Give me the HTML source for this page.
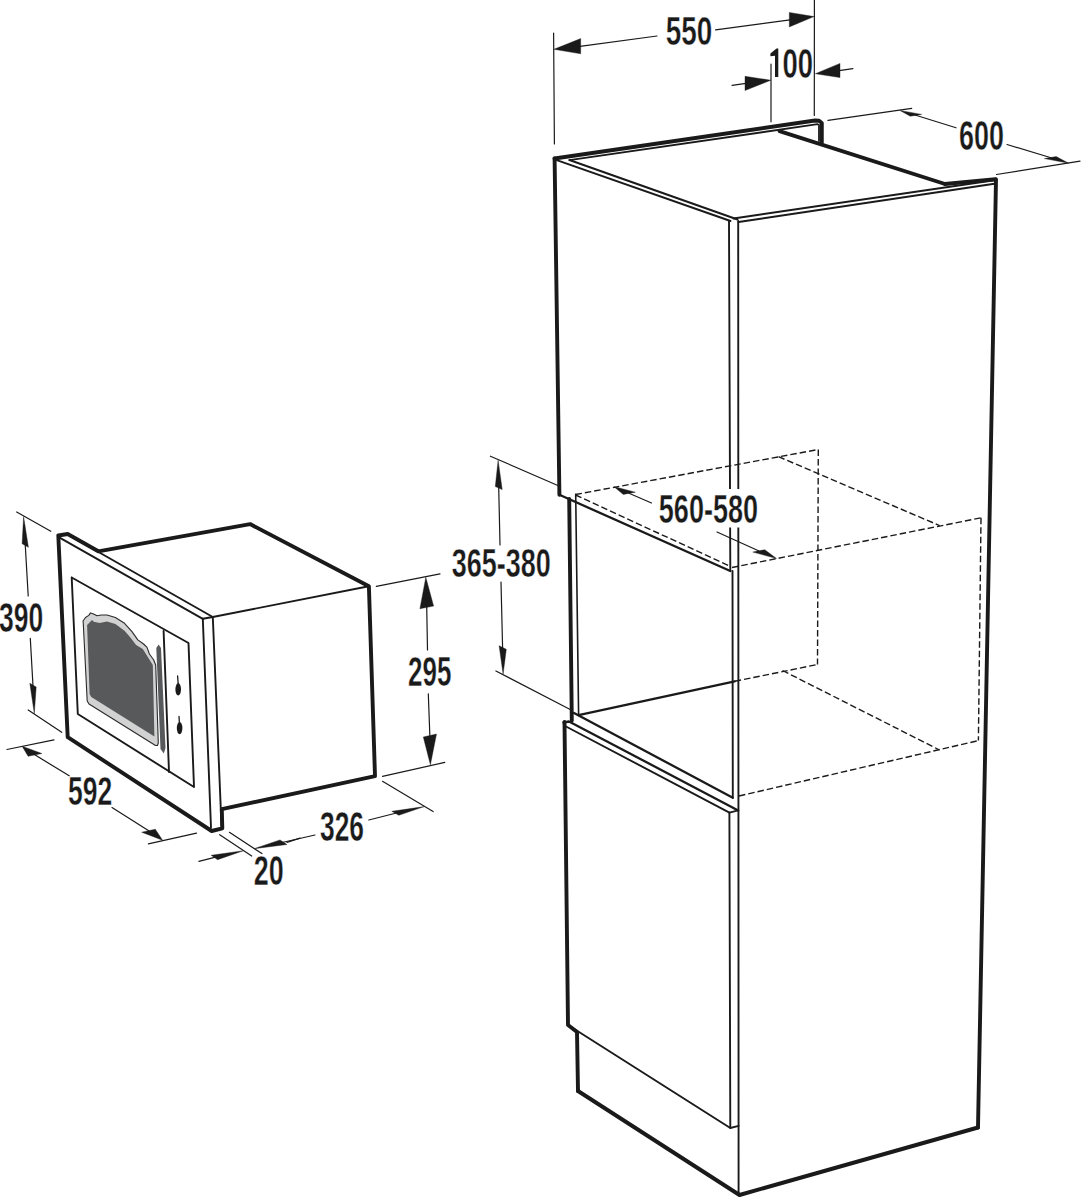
<!DOCTYPE html>
<html><head><meta charset="utf-8"><style>
html,body{margin:0;padding:0;background:#fff;}
svg{display:block;}
text{font-family:"Liberation Sans",sans-serif;font-weight:bold;fill:#1a1a1a;stroke:#fff;stroke-width:0.4;}
</style></head><body>
<svg width="1084" height="1200" viewBox="0 0 1084 1200">
<g fill="none" stroke="#1a1a1a">
<path d="M554.5,158.5 L815.0,120.5 L819.0,120.8 L821.8,123.0 L821.8,142.5" stroke-width="3.9" stroke-linecap="round" stroke-linejoin="round"/>
<path d="M569.4,160.2 L817.6,124.2 L819.0,125.0 L819.0,141.0" stroke-width="1.8" stroke-linecap="round" stroke-linejoin="round"/>
<path d="M556.0,159.8 L730.5,221.0" stroke-width="1.9" stroke-linecap="round" stroke-linejoin="round"/>
<path d="M569.4,160.0 L737.5,219.5" stroke-width="1.9" stroke-linecap="round" stroke-linejoin="round"/>
<path d="M779.5,131.2 L945.0,184.0" stroke-width="3.9" stroke-linecap="round" stroke-linejoin="round"/>
<path d="M945.0,184.0 L995.5,179.3" stroke-width="3.9" stroke-linecap="round" stroke-linejoin="round"/>
<path d="M733.5,218.5 L996.0,180.0" stroke-width="1.9" stroke-linecap="round" stroke-linejoin="round"/>
<path d="M738.5,222.0 L996.0,183.5" stroke-width="1.9" stroke-linecap="round" stroke-linejoin="round"/>
<path d="M996.0,179.5 L978.0,1127.5" stroke-width="3.9" stroke-linecap="round" stroke-linejoin="round"/>
<path d="M554.6,158.5 L559.4,494.8" stroke-width="3.9" stroke-linecap="round" stroke-linejoin="round"/>
<path d="M729.0,221.0 L730.3,571.0" stroke-width="1.9" stroke-linecap="round" stroke-linejoin="round"/>
<path d="M738.2,221.0 L738.6,1195.0" stroke-width="1.9" stroke-linecap="round" stroke-linejoin="round"/>
<path d="M559.4,494.8 L730.3,571.0" stroke-width="2.3" stroke-linecap="round" stroke-linejoin="round"/>
<path d="M569.2,499.0 L571.8,720.6" stroke-width="3.9" stroke-linecap="round" stroke-linejoin="round"/>
<path d="M575.7,494.4 L578.6,715.1" stroke-width="1.6" stroke-linecap="round" stroke-linejoin="round"/>
<path d="M578.6,715.1 L734.7,681.3" stroke-width="2.3" stroke-linecap="round" stroke-linejoin="round"/>
<path d="M574.0,713.0 L732.8,797.7" stroke-width="2.3" stroke-linecap="round" stroke-linejoin="round"/>
<path d="M732.5,571.0 L732.8,797.7" stroke-width="1.9" stroke-linecap="round" stroke-linejoin="round"/>
<path d="M563.5,722.5 L569.0,721.5 L738.2,810.4" stroke-width="2.3" stroke-linecap="round" stroke-linejoin="round"/>
<path d="M566.0,726.5 L729.4,812.6" stroke-width="1.9" stroke-linecap="round" stroke-linejoin="round"/>
<path d="M729.4,812.6 L738.2,810.4" stroke-width="1.9" stroke-linecap="round" stroke-linejoin="round"/>
<path d="M564.5,722.0 L568.0,1025.0 L577.0,1032.0 L578.0,1091.0" stroke-width="3.9" stroke-linecap="round" stroke-linejoin="round"/>
<path d="M578.0,1091.0 L739.5,1195.0 L978.0,1127.5" stroke-width="3.9" stroke-linecap="round" stroke-linejoin="round"/>
<path d="M729.4,812.6 L730.3,1128.0" stroke-width="1.9" stroke-linecap="round" stroke-linejoin="round"/>
<path d="M568.0,1025.0 L730.3,1128.0 L738.6,1125.8" stroke-width="1.9" stroke-linecap="round" stroke-linejoin="round"/>
<path d="M575.5,494.5 L818.3,449.5" stroke-width="1.4" stroke-linecap="butt" stroke-linejoin="round" stroke-dasharray="6.5,3"/>
<path d="M818.3,449.5 L817.5,664.5" stroke-width="1.4" stroke-linecap="butt" stroke-linejoin="round" stroke-dasharray="6.5,3"/>
<path d="M778.5,456.7 L939.6,525.6" stroke-width="1.4" stroke-linecap="butt" stroke-linejoin="round" stroke-dasharray="6.5,3"/>
<path d="M732.0,567.5 L981.0,517.8" stroke-width="1.4" stroke-linecap="butt" stroke-linejoin="round" stroke-dasharray="6.5,3"/>
<path d="M981.0,517.8 L978.4,740.6" stroke-width="1.4" stroke-linecap="butt" stroke-linejoin="round" stroke-dasharray="6.5,3"/>
<path d="M575.5,495.0 L730.0,566.2" stroke-width="1.4" stroke-linecap="butt" stroke-linejoin="round" stroke-dasharray="6.5,3"/>
<path d="M734.7,681.3 L817.5,664.5" stroke-width="1.4" stroke-linecap="butt" stroke-linejoin="round" stroke-dasharray="6.5,3"/>
<path d="M782.5,670.5 L939.5,750.0" stroke-width="1.4" stroke-linecap="butt" stroke-linejoin="round" stroke-dasharray="6.5,3"/>
<path d="M739.0,796.0 L978.4,740.6" stroke-width="1.4" stroke-linecap="butt" stroke-linejoin="round" stroke-dasharray="6.5,3"/>
<path d="M553.6,33.0 L554.4,144.0" stroke-width="1.2" stroke-linecap="round" stroke-linejoin="round"/>
<path d="M814.4,0.0 L814.3,115.5" stroke-width="1.2" stroke-linecap="round" stroke-linejoin="round"/>
<path d="M771.0,64.0 L771.0,121.8" stroke-width="1.2" stroke-linecap="round" stroke-linejoin="round"/>
<polygon points="553.9,49.3 580.7,53.8 580.7,38.6" fill="#1a1a1a" stroke="#1a1a1a" stroke-width="0.4" stroke-linejoin="miter"/>
<polygon points="814.0,16.6 789.3,26.9 789.3,12.4" fill="#1a1a1a" stroke="#1a1a1a" stroke-width="0.4" stroke-linejoin="miter"/>
<path d="M580.0,46.3 L657.0,36.0" stroke-width="1.2" stroke-linecap="round" stroke-linejoin="round"/>
<path d="M715.6,29.8 L790.0,19.8" stroke-width="1.2" stroke-linecap="round" stroke-linejoin="round"/>
<polygon points="770.8,80.2 745.0,90.5 745.0,76.3" fill="#1a1a1a" stroke="#1a1a1a" stroke-width="0.4" stroke-linejoin="miter"/>
<path d="M732.1,85.3 L746.0,83.3" stroke-width="1.2" stroke-linecap="round" stroke-linejoin="round"/>
<polygon points="815.4,73.7 840.0,77.6 840.0,63.4" fill="#1a1a1a" stroke="#1a1a1a" stroke-width="0.4" stroke-linejoin="miter"/>
<path d="M839.0,70.6 L852.9,68.6" stroke-width="1.2" stroke-linecap="round" stroke-linejoin="round"/>
<path d="M828.0,120.3 L911.7,108.3" stroke-width="1.2" stroke-linecap="round" stroke-linejoin="round"/>
<path d="M996.5,174.5 L1080.0,161.1" stroke-width="1.2" stroke-linecap="round" stroke-linejoin="round"/>
<polygon points="899.9,110.4 921.7,114.4 910.3,116.2" fill="#1a1a1a" stroke="#1a1a1a" stroke-width="0.4" stroke-linejoin="miter"/>
<polygon points="1068.7,163.2 1056.2,156.6 1044.4,158.6" fill="#1a1a1a" stroke="#1a1a1a" stroke-width="0.4" stroke-linejoin="miter"/>
<path d="M915.0,115.0 L956.0,127.8" stroke-width="1.2" stroke-linecap="round" stroke-linejoin="round"/>
<path d="M1007.0,144.5 L1051.0,157.8" stroke-width="1.2" stroke-linecap="round" stroke-linejoin="round"/>
<path d="M490.4,456.2 L559.0,486.0" stroke-width="1.2" stroke-linecap="round" stroke-linejoin="round"/>
<path d="M495.9,671.0 L570.7,709.7" stroke-width="1.2" stroke-linecap="round" stroke-linejoin="round"/>
<polygon points="498.1,460.2 502.2,489.6 495.3,486.6" fill="#1a1a1a" stroke="#1a1a1a" stroke-width="0.4" stroke-linejoin="miter"/>
<polygon points="503.1,674.2 506.3,649.3 499.1,645.7" fill="#1a1a1a" stroke="#1a1a1a" stroke-width="0.4" stroke-linejoin="miter"/>
<path d="M498.7,487.0 L500.0,545.0" stroke-width="1.2" stroke-linecap="round" stroke-linejoin="round"/>
<path d="M501.0,582.0 L502.6,648.0" stroke-width="1.2" stroke-linecap="round" stroke-linejoin="round"/>
<polygon points="613.8,486.6 635.3,492.2 623.3,494.4" fill="#1a1a1a" stroke="#1a1a1a" stroke-width="0.4" stroke-linejoin="miter"/>
<polygon points="776.5,558.5 764.8,549.7 752.8,552.1" fill="#1a1a1a" stroke="#1a1a1a" stroke-width="0.4" stroke-linejoin="miter"/>
<path d="M629.0,493.3 L651.5,503.0" stroke-width="1.2" stroke-linecap="round" stroke-linejoin="round"/>
<path d="M717.0,532.0 L759.0,551.0" stroke-width="1.2" stroke-linecap="round" stroke-linejoin="round"/>
<polygon points="83.0,621.0 85.5,617.5 88.8,615.4 90.5,612.9 93.0,613.7 97.1,615.8 101.3,615.0 107.0,615.0 115.4,617.5 124.5,623.3 132.0,631.6 137.8,639.9 143.6,644.0 147.0,647.4 149.4,654.0 153.6,659.8 155.7,665.0 158.3,743.0 157.5,745.5 155.5,745.5 89.0,704.0 87.2,701.0 83.2,622.0" fill="#d2d2d2" stroke="#2a2a2a" stroke-width="1.1" stroke-linejoin="round"/>
<polygon points="87.1,624.9 90.5,621.6 92.1,620.0 93.8,621.8 99.6,622.9 107.0,621.6 115.4,624.1 124.5,630.7 130.0,637.0 136.1,644.9 142.8,649.0 144.4,651.5 148.6,658.2 152.8,665.0 154.4,736.4 91.3,697.0 89.6,694.0" fill="#58595b" stroke="none"/>
<polygon points="156.3,648.0 158.6,644.5 161.0,648.0 165.5,748.0 163.8,753.5 160.5,749.0" fill="#58595b" stroke="none"/>
<ellipse cx="178.2" cy="689.3" rx="2.8" ry="6.2" fill="#1a1a1a" stroke="none"/>
<ellipse cx="179.6" cy="728.1" rx="2.8" ry="6.2" fill="#1a1a1a" stroke="none"/>
<path d="M177.6,676.0 L178.2,684.0" stroke-width="1.3" stroke-linecap="round" stroke-linejoin="round"/>
<path d="M179.0,716.5 L179.4,723.0" stroke-width="1.3" stroke-linecap="round" stroke-linejoin="round"/>
<path d="M71.7,577.5 L188.5,643.0 L194.0,787.0 L77.8,714.0 L71.7,577.5" stroke-width="1.9" stroke-linecap="round" stroke-linejoin="round"/>
<path d="M163.6,631.0 L169.0,772.0" stroke-width="1.9" stroke-linecap="round" stroke-linejoin="round"/>
<path d="M67.7,534.5 L212.8,617.0" stroke-width="1.9" stroke-linecap="round" stroke-linejoin="round"/>
<path d="M60.0,537.8 L202.8,618.8" stroke-width="1.9" stroke-linecap="round" stroke-linejoin="round"/>
<path d="M202.8,618.8 L212.8,617.0" stroke-width="1.9" stroke-linecap="round" stroke-linejoin="round"/>
<path d="M202.8,618.8 L211.0,827.5" stroke-width="1.9" stroke-linecap="round" stroke-linejoin="round"/>
<path d="M212.8,617.0 L221.5,826.0" stroke-width="1.9" stroke-linecap="round" stroke-linejoin="round"/>
<path d="M212.8,617.0 L368.8,586.3" stroke-width="1.9" stroke-linecap="round" stroke-linejoin="round"/>
<path d="M58.3,535.5 L67.7,534.0 L98.3,551.3 L250.1,524.1 L368.9,586.2 L375.0,776.2 L221.8,809.2 L222.3,828.3 L211.7,831.0 L67.7,737.2 L58.3,535.5" stroke-width="3.9" stroke-linecap="round" stroke-linejoin="round"/>
<path d="M16.7,512.0 L50.8,531.3" stroke-width="1.2" stroke-linecap="round" stroke-linejoin="round"/>
<path d="M28.2,710.0 L61.7,732.3" stroke-width="1.2" stroke-linecap="round" stroke-linejoin="round"/>
<polygon points="23.6,516.6 28.4,547.3 22.1,543.7" fill="#1a1a1a" stroke="#1a1a1a" stroke-width="0.4" stroke-linejoin="miter"/>
<polygon points="34.3,713.6 36.2,687.0 29.8,683.2" fill="#1a1a1a" stroke="#1a1a1a" stroke-width="0.4" stroke-linejoin="miter"/>
<path d="M25.2,544.0 L28.2,596.0" stroke-width="1.2" stroke-linecap="round" stroke-linejoin="round"/>
<path d="M30.3,638.3 L33.0,686.0" stroke-width="1.2" stroke-linecap="round" stroke-linejoin="round"/>
<path d="M376.3,586.3 L440.0,573.8" stroke-width="1.2" stroke-linecap="round" stroke-linejoin="round"/>
<path d="M382.5,776.3 L444.8,762.4" stroke-width="1.2" stroke-linecap="round" stroke-linejoin="round"/>
<polygon points="425.8,577.3 433.6,606.1 419.9,608.7" fill="#1a1a1a" stroke="#1a1a1a" stroke-width="0.4" stroke-linejoin="miter"/>
<polygon points="430.4,764.8 436.5,734.0 423.3,737.0" fill="#1a1a1a" stroke="#1a1a1a" stroke-width="0.4" stroke-linejoin="miter"/>
<path d="M426.7,606.0 L427.5,650.0" stroke-width="1.2" stroke-linecap="round" stroke-linejoin="round"/>
<path d="M428.3,693.8 L429.9,737.0" stroke-width="1.2" stroke-linecap="round" stroke-linejoin="round"/>
<path d="M6.9,749.5 L54.0,739.8" stroke-width="1.2" stroke-linecap="round" stroke-linejoin="round"/>
<path d="M148.4,843.9 L196.5,833.2" stroke-width="1.2" stroke-linecap="round" stroke-linejoin="round"/>
<polygon points="22.1,746.2 41.9,753.5 28.1,756.3" fill="#1a1a1a" stroke="#1a1a1a" stroke-width="0.4" stroke-linejoin="miter"/>
<polygon points="162.6,840.3 155.3,829.2 141.7,832.2" fill="#1a1a1a" stroke="#1a1a1a" stroke-width="0.4" stroke-linejoin="miter"/>
<path d="M34.0,754.3 L69.2,775.8" stroke-width="1.2" stroke-linecap="round" stroke-linejoin="round"/>
<path d="M112.0,807.6 L149.5,831.3" stroke-width="1.2" stroke-linecap="round" stroke-linejoin="round"/>
<path d="M382.5,781.3 L433.1,811.6" stroke-width="1.2" stroke-linecap="round" stroke-linejoin="round"/>
<polygon points="424.3,806.6 398.8,815.3 391.8,811.3" fill="#1a1a1a" stroke="#1a1a1a" stroke-width="0.4" stroke-linejoin="miter"/>
<polygon points="254.1,848.7 287.0,844.5 280.0,839.9" fill="#1a1a1a" stroke="#1a1a1a" stroke-width="0.4" stroke-linejoin="miter"/>
<path d="M368.8,820.0 L396.5,813.0" stroke-width="1.2" stroke-linecap="round" stroke-linejoin="round"/>
<path d="M282.0,842.5 L315.0,835.0" stroke-width="1.2" stroke-linecap="round" stroke-linejoin="round"/>
<path d="M219.7,834.7 L251.7,856.0" stroke-width="1.2" stroke-linecap="round" stroke-linejoin="round"/>
<path d="M229.4,832.3 L261.9,853.6" stroke-width="1.2" stroke-linecap="round" stroke-linejoin="round"/>
<polygon points="243.4,850.7 217.6,859.7 211.2,855.3" fill="#1a1a1a" stroke="#1a1a1a" stroke-width="0.4" stroke-linejoin="miter"/>
<path d="M198.9,861.3 L215.5,857.2" stroke-width="1.2" stroke-linecap="round" stroke-linejoin="round"/>
<path d="M287.0,842.4 L300.0,838.1" stroke-width="1.2" stroke-linecap="round" stroke-linejoin="round"/>
<rect x="655" y="489" width="108" height="38.5" fill="#fff" stroke="none"/>
<polygon points="770.4,53.6 776.5,48.5 778.3,48.5 778.3,77.0 775.0,77.0 775.0,55.7 770.4,56.3" fill="#1a1a1a" stroke="none"/>
<text x="665.80" y="45.15" font-size="40.93" textLength="46.51" lengthAdjust="spacingAndGlyphs">550</text>
<text x="782.50" y="77.74" font-size="42.38" textLength="30.56" lengthAdjust="spacingAndGlyphs">00</text>
<text x="959.12" y="149.74" font-size="42.20" textLength="44.87" lengthAdjust="spacingAndGlyphs">600</text>
<text x="658.80" y="523.02" font-size="41.31" textLength="99.38" lengthAdjust="spacingAndGlyphs">560-580</text>
<text x="451.71" y="577.15" font-size="41.33" textLength="99.13" lengthAdjust="spacingAndGlyphs">365-380</text>
<text x="-0.95" y="631.74" font-size="41.77" textLength="44.25" lengthAdjust="spacingAndGlyphs">390</text>
<text x="408.06" y="685.75" font-size="41.77" textLength="43.37" lengthAdjust="spacingAndGlyphs">295</text>
<text x="68.06" y="804.76" font-size="41.38" textLength="44.26" lengthAdjust="spacingAndGlyphs">592</text>
<text x="319.98" y="840.75" font-size="41.79" textLength="44.03" lengthAdjust="spacingAndGlyphs">326</text>
<text x="253.80" y="885.42" font-size="41.77" textLength="29.96" lengthAdjust="spacingAndGlyphs">20</text>
</g></svg></body></html>
